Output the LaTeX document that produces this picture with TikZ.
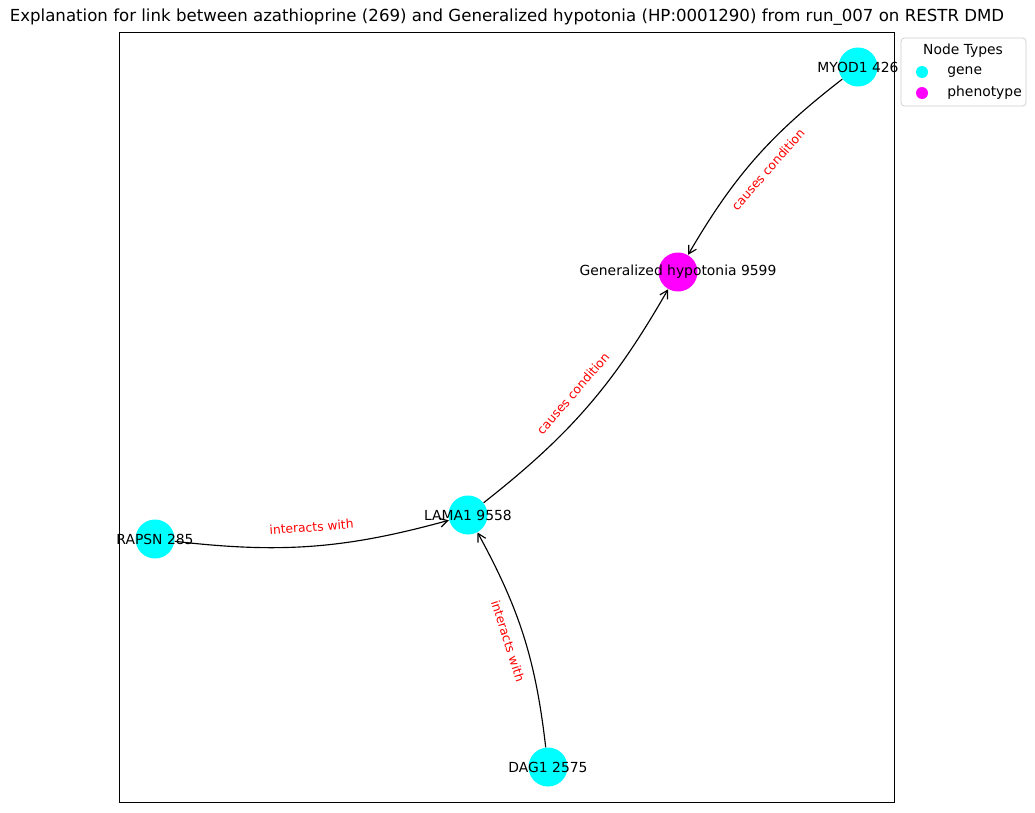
\documentclass[tikz,border=0pt]{standalone}
\usepackage{fontspec}
\setmainfont{DejaVu Sans}
\usetikzlibrary{arrows.meta}
\definecolor{genecol}{RGB}{0,255,255}
\definecolor{phenocol}{RGB}{255,0,255}
\tikzset{
    gene/.style={circle, fill=genecol, minimum size=0.78cm, inner sep=0pt},
    pheno/.style={circle, fill=phenocol, minimum size=0.78cm, inner sep=0pt},
    nlabel/.style={font=\fontsize{7.9}{9}\selectfont, inner sep=0pt},
    elabel/.style={font=\fontsize{7}{8}\selectfont, text=red, inner sep=0pt, sloped},
    edge/.style={-{Straight Barb[length=4.5pt,width=5pt]}, line width=0.65pt},
    legdot/.style={circle, minimum size=0.24cm, inner sep=0pt},
    legtext/.style={font=\fontsize{7.9}{9}\selectfont, inner sep=0pt, anchor=west}
}
\begin{document}
\begin{tikzpicture}[x=0.02cm, y=-0.02cm]
        \useasboundingbox (0,0) rectangle (1035,812);

        % Title and frame
        \node[font=\fontsize{9.45}{11}\selectfont, inner sep=0pt] (title) at (507,17)
            {Explanation for link between azathioprine (269) and Generalized hypotonia (HP:0001290) from run\_007 on RESTR DMD};
        \draw[line width=0.55pt] (119,32) rectangle (894,802);

        % Nodes
        \node[gene] (myod) at (858,67) {};
        \node[pheno] (hypo) at (678,272) {};
        \node[gene] (lama) at (468,515) {};
        \node[gene] (rapsn) at (155,539) {};
        \node[gene] (dag) at (548,767) {};

        % Edges
        \draw[edge] (myod) to[bend right=11] (hypo);
        \draw[edge] (lama) to[bend right=11] (hypo);
        \draw[edge] (rapsn) to[bend right=11] (lama);
        \draw[edge] (dag) to[bend right=11] (lama);

        % Edge labels
        \path (hypo) -- node[elabel] (lab1) {causes condition} (myod);
        \path (lama) -- node[elabel] (lab2) {causes condition} (hypo);
        \path (rapsn) -- node[elabel] (lab3) {interacts with} (lama);
        \path (lama) -- node[elabel] (lab4) {interacts with} (dag);

        % Node labels
        \node[nlabel] (myodtxt) at (myod) {MYOD1 426};
        \node[nlabel] (hypotxt) at (hypo) {Generalized hypotonia 9599};
        \node[nlabel] (lamatxt) at (lama) {LAMA1 9558};
        \node[nlabel] (rapsntxt) at (rapsn) {RAPSN 285};
        \node[nlabel] (dagtxt) at (dag) {DAG1 2575};

        % Legend
        \draw[black!20, fill=white, rounded corners=2pt] (901,38) rectangle (1026,106);
        \node[nlabel] (legtitle) at (963,51) {Node Types};
        \node[legdot, fill=genecol] (leggene) at (922,72) {};
        \node[legtext] (leggenetxt) at (947,72) {gene};
        \node[legdot, fill=phenocol] (legpheno) at (922,93) {};
        \node[legtext] (legphenotxt) at (947,93) {phenotype};
\end{tikzpicture}
\end{document}
